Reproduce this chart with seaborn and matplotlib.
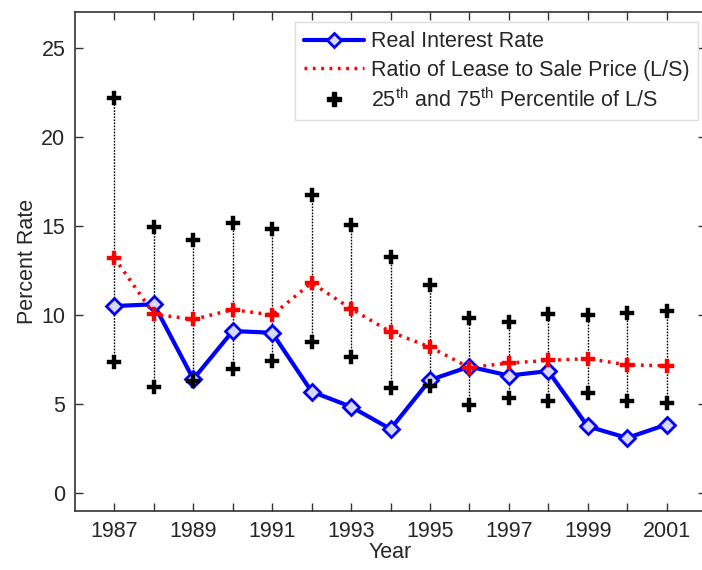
import numpy as np
import pandas as pd
import matplotlib
matplotlib.use("Agg")
import matplotlib.pyplot as plt
from matplotlib.lines import Line2D
import seaborn as sns

years = list(range(1987, 2002))
real_rate = [10.5, 10.6, 6.4, 9.1, 9.0, 5.7, 4.85, 3.6, 6.35, 7.1, 6.6, 6.85, 3.75, 3.1, 3.85]
lease_sale = [13.2, 10.05, 9.75, 10.3, 10.0, 11.8, 10.35, 9.05, 8.2, 7.05, 7.3, 7.45, 7.55, 7.2, 7.15]
p75 = [22.2, 14.95, 14.2, 15.15, 14.8, 16.75, 15.05, 13.25, 11.7, 9.85, 9.6, 10.05, 10.0, 10.1, 10.2]
p25 = [7.35, 5.95, 6.3, 6.95, 7.4, 8.5, 7.65, 5.9, 6.0, 4.95, 5.35, 5.15, 5.6, 5.15, 5.05]

df = pd.DataFrame({"Year": years, "real": real_rate, "ls": lease_sale, "p25": p25, "p75": p75})
pct = pd.DataFrame({"Year": years * 2, "val": p25 + p75})

sns.set_style("ticks")
plt.rcParams["font.family"] = ["Liberation Sans", "DejaVu Sans"]
plt.rcParams["mathtext.fontset"] = "custom"
plt.rcParams["mathtext.rm"] = "Liberation Sans"
plt.rcParams["xtick.direction"] = "in"
plt.rcParams["ytick.direction"] = "in"

fig = plt.figure(figsize=(7.02, 5.70), dpi=100)
ax = fig.add_axes([75 / 702, 59 / 570, 631 / 702, 499 / 570])

# whiskers between percentiles
ax.vlines(df["Year"], df["p25"], df["p75"], colors="black", linestyles=(0, (1.2, 1.0)), linewidth=1.0, zorder=1)

sns.lineplot(data=df, x="Year", y="real", ax=ax, color="blue", linewidth=3,
             marker="D", markersize=8, markerfacecolor="#d8d8ff", markeredgecolor="blue",
             markeredgewidth=2, zorder=3)
sns.lineplot(data=df, x="Year", y="ls", ax=ax, color="red", linewidth=2.5,
             linestyle=(0, (0.8, 1.6)), zorder=4)
sns.scatterplot(data=df, x="Year", y="ls", ax=ax, marker="P", s=100, color="red",
                edgecolor="red", linewidth=0.3, zorder=5)
sns.scatterplot(data=pct, x="Year", y="val", ax=ax, marker="P", s=100, color="black",
                edgecolor="black", linewidth=0.3, zorder=5)

ax.set_xlim(1986, 2002)
ax.set_ylim(-1, 27)
ax.set_xticks(years)
ax.set_xticklabels([str(y) if (y - 1987) % 2 == 0 else "" for y in years])
ax.set_yticks([0, 5, 10, 15, 20, 25])
ax.tick_params(axis="both", labelsize=15.5, length=6, width=1, color="#333333",
               top=True, right=True, pad=7)
for s in ax.spines.values():
    s.set_color("#333333")
    s.set_linewidth(1.2)
ax.spines["right"].set_visible(False)  # falls outside the cropped picture

ax.set_xlabel("Year", fontsize=15.5, labelpad=0)
ax.set_ylabel("Percent Rate", fontsize=15.5, labelpad=2)

handles = [
    Line2D([], [], color="blue", linewidth=3, marker="D", markersize=7,
           markerfacecolor="#d8d8ff", markeredgecolor="blue", markeredgewidth=2),
    Line2D([], [], color="red", linewidth=2.5, linestyle=(0, (0.8, 1.6))),
    Line2D([], [], color="black", linestyle="none", marker="P", markersize=10),
]
labels = ["Real Interest Rate", "Ratio of Lease to Sale Price (L/S)",
          r"25$^{\rm th}$ and 75$^{\rm th}$ Percentile of L/S"]
leg = ax.legend(handles, labels, loc="upper right", bbox_to_anchor=(0.987, 0.979),
                borderaxespad=0, fontsize=15.5, handlelength=2.8, handletextpad=0.3,
                labelspacing=0.35, borderpad=0.4, fancybox=False, framealpha=1)
leg.get_frame().set_edgecolor("#dddddd")
leg.get_frame().set_linewidth(1)

fig.savefig("out.png", dpi=100)
